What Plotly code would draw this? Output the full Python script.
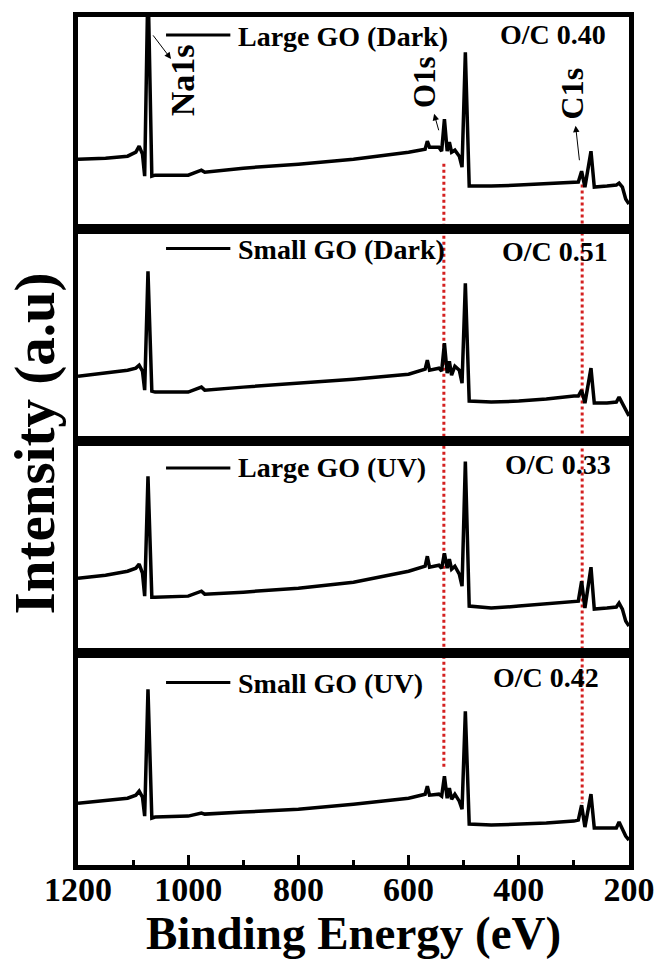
import plotly.graph_objects as go
from plotly.subplots import make_subplots

# ---------------- data ----------------
energy = [1200, 1150, 1110, 1095, 1089, 1083, 1079, 1073, 1066, 1060,
          1000, 976, 970, 900, 800, 700, 600, 570, 566, 562,
          545, 540, 535, 530, 526, 522, 516, 508, 503, 497,
          490, 450, 400, 350, 300, 292, 286, 280, 269, 263,
          240, 223, 218, 212, 206, 200]

large_go_dark = [70, 71, 73, 77, 83, 75, 53, 250, 53, 54,
                 54, 59, 57, 61, 65, 70, 77, 80, 88, 82,
                 82, 78, 110, 78, 87, 77, 79, 73, 62, 177,
                 43, 43, 44, 45, 46.5, 47, 58, 42, 78, 42,
                 43, 44, 46, 42, 30, 25]

small_go_dark = [65, 68, 71, 73, 76, 70, 51, 170, 50, 49,
                 49, 54, 51, 54, 58, 62, 67, 72, 81, 71,
                 73, 70, 98, 68, 80, 66, 75, 71, 58, 158,
                 40, 39, 40, 42, 45, 45, 51, 38, 73, 38,
                 38, 39, 44, 38, 31, 25]

large_go_uv = [75, 78, 82, 85, 89, 80, 57, 177, 56, 56,
               57, 62, 59, 61, 65, 71, 82, 87, 97, 86,
               88, 85, 100, 85, 94, 84, 87, 79, 67, 192,
               47, 45, 47, 49, 51, 52, 72, 45, 86, 44,
               45, 46, 50, 44, 32, 27]

small_go_uv = [62, 65, 67, 70, 74, 68, 49, 176, 47, 48,
               49, 52, 51, 53, 56, 61, 67, 71, 79, 70,
               71, 69, 89, 67, 77, 66, 71, 64, 56, 154,
               41, 40, 41, 42, 44, 45, 60, 38, 71, 37,
               37, 37, 43, 36, 29, 25]

series_names = ["Large GO (Dark)", "Small GO (Dark)", "Large GO (UV)", "Small GO (UV)"]
series_values = [large_go_dark, small_go_dark, large_go_uv, small_go_uv]
oc_labels = ["O/C 0.40", "O/C 0.51", "O/C 0.33", "O/C 0.42"]

peak_labels = ["Na1s", "O1s", "C1s"]
o1s_energy = 536
c1s_energy = 285

x_ticks = [1200, 1000, 800, 600, 400, 200]
x_ticklabels = ["1200", "1000", "800", "600", "400", "200"]

# ---------------- layout helpers ----------------
W, H = 667, 960
L, R, T, B = 78, 32, 15, 95
PW, PH = W - L - R, H - T - B


def px(xp):
    return (xp - L) / PW


def py(yp):
    return (H - B - yp) / PH


FONT = "Liberation Serif, Times New Roman, serif"

fig = make_subplots(rows=4, cols=1, shared_xaxes=True, vertical_spacing=0)

for i, (name, vals) in enumerate(zip(series_names, series_values)):
    fig.add_trace(go.Scatter(x=energy, y=vals, mode="lines", name=name,
                             line=dict(color="black", width=3.5),
                             showlegend=False), row=i + 1, col=1)

for i in range(4):
    fig.update_yaxes(range=[0, 212.5], showline=True, mirror=True, linewidth=5,
                     linecolor="black", showticklabels=False, ticks="",
                     showgrid=False, zeroline=False, row=i + 1, col=1)
    fig.update_xaxes(range=[1200, 200], showline=True, mirror=True, linewidth=5,
                     linecolor="black", showgrid=False, zeroline=False,
                     showticklabels=(i == 3), ticks=("inside" if i == 3 else ""),
                     row=i + 1, col=1)

fig.update_xaxes(tickvals=x_ticks, ticktext=x_ticklabels, ticklen=10, tickwidth=3,
                 tickcolor="black", ticklabelstandoff=-10,
                 tickfont=dict(family=FONT, size=34, color="black", weight="bold"),
                 minor=dict(dtick=100, tick0=200, ticks="inside", ticklen=5,
                            tickwidth=3, tickcolor="black"),
                 row=4, col=1)

shapes = []
annotations = []

# red dotted reference lines
shapes.append(dict(type="line", xref="x", yref="paper", x0=o1s_energy, x1=o1s_energy,
                   y0=py(162), y1=py(767), line=dict(color="#d42020", width=3, dash="dot"),
                   layer="below"))
shapes.append(dict(type="line", xref="x", yref="paper", x0=c1s_energy, x1=c1s_energy,
                   y0=py(183), y1=py(803), line=dict(color="#d42020", width=3, dash="dot"),
                   layer="below"))

# legend samples and labels per panel
leg_line_y = [33, 247, 467, 682]
leg_text_y = [35, 248, 467, 683]
oc_pos = [(503, 33), (505, 250), (508, 464), (495, 677)]
for i in range(4):
    shapes.append(dict(type="line", xref="paper", yref="paper", x0=px(167), x1=px(232),
                       y0=py(leg_line_y[i]), y1=py(leg_line_y[i]),
                       line=dict(color="black", width=3)))
    annotations.append(dict(x=px(238), y=py(leg_text_y[i]), xref="paper", yref="paper",
                            text=series_names[i], showarrow=False, xanchor="left",
                            yanchor="middle",
                            font=dict(family=FONT, size=28, color="black", weight="bold")))
    annotations.append(dict(x=px(oc_pos[i][0]), y=py(oc_pos[i][1]), xref="paper", yref="paper",
                            text=oc_labels[i], showarrow=False, xanchor="left",
                            yanchor="middle",
                            font=dict(family=FONT, size=28, color="black", weight="bold")))

# peak labels (rotated)
peak_pos = [(183.5, 78, 34), (429, 80, 31), (577, 92, 32)]
for lab, (xx, yy, fs) in zip(peak_labels, peak_pos):
    annotations.append(dict(x=px(xx), y=py(yy), xref="paper", yref="paper", text=lab,
                            showarrow=False, textangle=-90, xanchor="center", yanchor="middle",
                            font=dict(family=FONT, size=fs, color="black", weight="bold")))

# arrows
arrows = [((172, 57), (153, 32)), ((438, 112), (443, 130)), ((581, 124), (585, 160))]
for (hx, hy), (tx, ty) in arrows:
    annotations.append(dict(x=px(hx), y=py(hy), xref="paper", yref="paper", text="",
                            showarrow=True, ax=tx - hx, ay=ty - hy, axref="pixel", ayref="pixel",
                            arrowhead=2, arrowsize=1.3, arrowwidth=1, arrowcolor="black",
                            standoff=0, startstandoff=0))

# axis titles
annotations.append(dict(x=0.5, y=py(933), xref="paper", yref="paper",
                        text="Binding Energy (eV)", showarrow=False,
                        xanchor="center", yanchor="middle",
                        font=dict(family=FONT, size=47, color="black", weight="bold")))
annotations.append(dict(x=px(35), y=py(442), xref="paper", yref="paper",
                        text="Intensity (a.u)", showarrow=False, textangle=-90,
                        xanchor="center", yanchor="middle",
                        font=dict(family=FONT, size=57, color="black", weight="bold")))

fig.update_layout(width=W, height=H, margin=dict(l=L, r=R, t=T, b=B),
                  paper_bgcolor="white", plot_bgcolor="white",
                  shapes=shapes, annotations=annotations, showlegend=False)

fig.write_html("out.html")
